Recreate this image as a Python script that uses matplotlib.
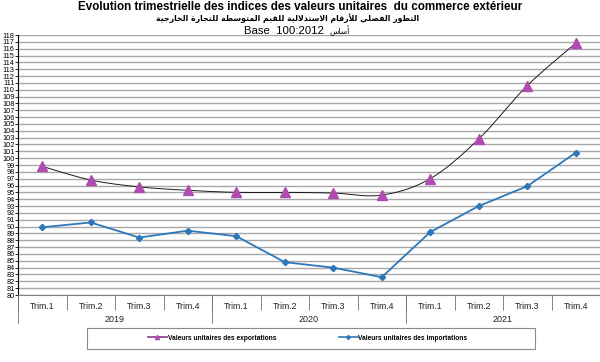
import numpy as np
import matplotlib
matplotlib.use("Agg")
import matplotlib.pyplot as plt
from matplotlib.patches import Rectangle
import matplotlib.transforms as mtransforms

# ---------------- data ----------------
quarters = ["Trim.1", "Trim.2", "Trim.3", "Trim.4"] * 3
years = ["2019", "2020", "2021"]
exports = [98.8, 96.8, 95.8, 95.3, 95.0, 95.0, 94.9, 94.6, 97.0, 102.8, 110.6, 116.8]
imports = [89.9, 90.6, 88.4, 89.4, 88.6, 84.8, 84.0, 82.6, 89.2, 93.0, 95.9, 100.8]
y_ticks = list(range(80, 119))
title_fr = "Evolution trimestrielle des indices des valeurs unitaires  du commerce extérieur"
title_ar = "التطور الفصلي للأرقام الاستدلالية للقيم المتوسطة للتجارة الخارجية"
base_fr = "Base  100:2012"
base_ar = "أساس"
legend_labels = ["Valeurs unitaires des exportations", "Valeurs unitaires des importations"]

# ---------------- minimal Arabic shaping ----------------
FORMS = {
    'ا': (0xFE8D, 0xFE8E, None, None), 'أ': (0xFE83, 0xFE84, None, None),
    'ة': (0xFE93, 0xFE94, None, None), 'ت': (0xFE95, 0xFE96, 0xFE97, 0xFE98),
    'ج': (0xFE9D, 0xFE9E, 0xFE9F, 0xFEA0), 'خ': (0xFEA5, 0xFEA6, 0xFEA7, 0xFEA8),
    'د': (0xFEA9, 0xFEAA, None, None), 'ر': (0xFEAD, 0xFEAE, None, None),
    'س': (0xFEB1, 0xFEB2, 0xFEB3, 0xFEB4), 'ص': (0xFEB9, 0xFEBA, 0xFEBB, 0xFEBC),
    'ط': (0xFEC1, 0xFEC2, 0xFEC3, 0xFEC4), 'ف': (0xFED1, 0xFED2, 0xFED3, 0xFED4),
    'ق': (0xFED5, 0xFED6, 0xFED7, 0xFED8), 'ل': (0xFEDD, 0xFEDE, 0xFEDF, 0xFEE0),
    'م': (0xFEE1, 0xFEE2, 0xFEE3, 0xFEE4), 'و': (0xFEED, 0xFEEE, None, None),
    'ي': (0xFEF1, 0xFEF2, 0xFEF3, 0xFEF4),
    'لا': (0xFEFB, 0xFEFC, None, None), 'لأ': (0xFEF7, 0xFEF8, None, None),
}

def shape_ar(s):
    toks = []
    i = 0
    while i < len(s):
        if s[i] == 'ل' and i + 1 < len(s) and s[i + 1] in 'اأ':
            toks.append(s[i:i + 2]); i += 2
        else:
            toks.append(s[i]); i += 1
    out = []
    for k, t in enumerate(toks):
        if t not in FORMS:
            out.append(t); continue
        f = FORMS[t]
        pj = k > 0 and toks[k - 1] in FORMS and FORMS[toks[k - 1]][2] is not None
        nj = f[2] is not None and k + 1 < len(toks) and toks[k + 1] in FORMS
        if pj and nj:
            c = f[3]
        elif pj:
            c = f[1]
        elif nj:
            c = f[2]
        else:
            c = f[0]
        out.append(chr(c))
    return ''.join(out)[::-1]

# ---------------- smoothing (Excel-like Catmull-Rom) ----------------
def smooth(xv, yv, n=20):
    xv = np.asarray(xv, float); yv = np.asarray(yv, float)
    px = np.concatenate([[xv[0]], xv, [xv[-1]]])
    py = np.concatenate([[yv[0]], yv, [yv[-1]]])
    xs, ys = [], []
    t = np.linspace(0, 1, n)
    for i in range(1, len(px) - 2):
        p0 = np.array([px[i], py[i]])
        p3 = np.array([px[i + 1], py[i + 1]])
        c1 = p0 + (np.array([px[i + 1], py[i + 1]]) - np.array([px[i - 1], py[i - 1]])) / 6
        c2 = p3 - (np.array([px[i + 2], py[i + 2]]) - np.array([px[i], py[i]])) / 6
        b = ((1 - t) ** 3)[:, None] * p0 + (3 * (1 - t) ** 2 * t)[:, None] * c1 + \
            (3 * (1 - t) * t ** 2)[:, None] * c2 + (t ** 3)[:, None] * p3
        xs.extend(b[:, 0]); ys.extend(b[:, 1])
    return xs, ys

# ---------------- figure ----------------
plt.rcParams['font.family'] = ['Liberation Sans', 'DejaVu Sans']
W, H = 600, 362
fig = plt.figure(figsize=(W / 100, H / 100), dpi=100)
ax = fig.add_axes([18 / W, 1 - 295 / H, (600 - 18) / W, (295 - 35) / H])

x = np.arange(len(quarters))
EXP_C = "#B04CB0"
IMP_C = "#2E78BA"

for v in y_ticks:
    ax.axhline(v, color="#A8A8A8", lw=1.0, zorder=1)

sx, sy = smooth(x, exports)
ax.plot(sx, sy, color="#1a1a1a", lw=0.7, zorder=3)
ax.plot(x, exports, ls="none", marker="^", ms=7.5, color=EXP_C, zorder=4)
ax.plot(x, imports, color=IMP_C, lw=1.3, marker="D", ms=3.2, zorder=3)

ax.set_xlim(-0.5, len(quarters) - 0.5)
ax.set_ylim(80, 118)
ax.set_yticks(y_ticks)
ax.set_yticklabels([str(v) for v in y_ticks])
ax.tick_params(axis="y", length=2, width=0.6, pad=0.5, labelsize=5.3, colors="black")
for s in ["top", "right"]:
    ax.spines[s].set_visible(False)
ax.spines["left"].set_color("black")
ax.spines["left"].set_linewidth(0.8)
ax.spines["bottom"].set_color("#808080")
ax.spines["bottom"].set_linewidth(0.8)

# category axis
ax.set_xticks(x)
ax.set_xticklabels(quarters, fontsize=6.3, color="#222222")
ax.tick_params(axis="x", length=0, pad=5)
ax.set_xticks(np.arange(len(quarters) + 1) - 0.5, minor=True)
ax.tick_params(axis="x", which="minor", length=11, width=0.6, color="#707070")

trans = mtransforms.blended_transform_factory(ax.transData, ax.transAxes)
per = 4
for k, yr in enumerate(years):
    ax.text(k * per + (per - 1) / 2, -25 / 260, yr, transform=trans, ha="center",
            va="center", fontsize=6.5, color="#222222")
for k in range(len(years) + 1):
    ax.plot([k * per - 0.5] * 2, [0, -28 / 260], transform=trans, color="#707070",
            lw=0.6, clip_on=False)

# titles
fig.text(0.5, 1 - 7.5 / H, title_fr, ha="center", va="center", fontsize=8.4, fontweight="bold")
fig.text(288 / W, 1 - 18 / H, shape_ar(title_ar), ha="center", va="center", fontsize=5.6,
         family=["DejaVu Sans"], fontweight="bold")
fig.text(324 / W, 1 - 31 / H, base_fr, ha="right", va="center", fontsize=8.2)
fig.text(329 / W, 1 - 31 / H, shape_ar(base_ar), ha="left", va="center", fontsize=5.5,
         family=["DejaVu Sans"])

# legend
h1, = ax.plot([], [], color="#8A3A8A", lw=1.2, marker="^", ms=3, mfc=EXP_C, mec=EXP_C)
h2, = ax.plot([], [], color=IMP_C, lw=1.2, marker="D", ms=2, mfc=IMP_C)
leg = fig.legend([h1, h2], legend_labels, loc="center left",
                 bbox_to_anchor=(148 / W, 1 - 338 / H), ncol=2, frameon=False,
                 fontsize=4.8, handlelength=2.8, handletextpad=0.15, columnspacing=9.4,
                 borderpad=0, borderaxespad=0)
for t in leg.get_texts():
    t.set_fontweight("bold")
fig.patches.append(Rectangle((87 / W, 1 - 349 / H), 448 / W, 21 / H, transform=fig.transFigure,
                             fill=False, edgecolor="#8a8a8a", lw=0.8))

fig.savefig("out.png", dpi=100)
